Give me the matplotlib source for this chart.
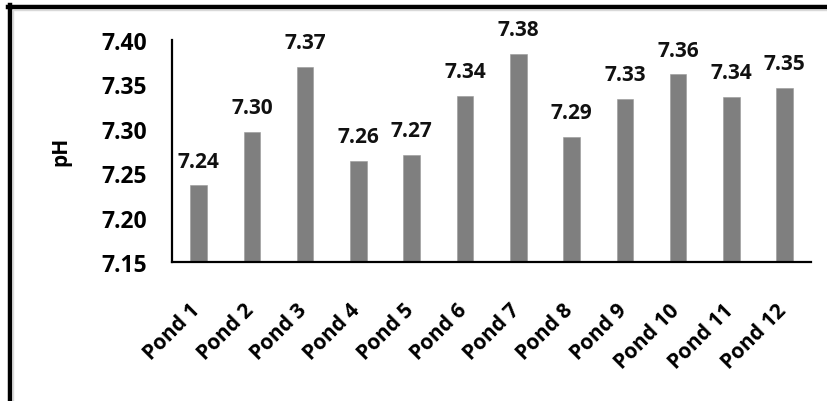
import matplotlib
matplotlib.use("Agg")
import matplotlib.pyplot as plt
from matplotlib.lines import Line2D
import matplotlib.transforms as mtransforms

categories = ["Pond 1", "Pond 2", "Pond 3", "Pond 4", "Pond 5", "Pond 6",
              "Pond 7", "Pond 8", "Pond 9", "Pond 10", "Pond 11", "Pond 12"]
ph_values = [7.236, 7.296, 7.369, 7.264, 7.270, 7.337,
             7.384, 7.291, 7.333, 7.361, 7.336, 7.346]
y_ticks = [7.15, 7.20, 7.25, 7.30, 7.35, 7.40]

plt.rcParams['font.family'] = ['Open Sans', 'DejaVu Sans']

fig = plt.figure(figsize=(8.27, 4.02), dpi=100)
ax = fig.add_axes([0.208, 0.3458, 0.773, 0.5533])

x = range(len(categories))
bars = ax.bar(x, ph_values, width=0.31, color='#7f7f7f', edgecolor='#9a9a9a', linewidth=0.4)

for xi, v in zip(x, ph_values):
    ax.annotate(f"{v:.2f}", xy=(xi, v), xytext=(0, 13.5), textcoords='offset points',
                ha='center', va='baseline', fontsize=15, fontweight='bold', color='#111111')

ax.set_ylim(7.15, 7.40)
ax.set_xlim(-0.5, len(categories) - 0.5)
ax.set_yticks(y_ticks)
ax.set_yticklabels([f"{t:.2f}" for t in y_ticks], fontsize=16.5, fontweight='bold')
ax.set_xticks(list(x))
ax.set_xticklabels(categories, rotation=45, ha='right', va='top', fontsize=15, fontweight='bold')
ax.tick_params(axis='y', length=0, pad=18)
ax.tick_params(axis='x', length=0, pad=27)

shift = mtransforms.ScaledTranslation(6/100, 0, fig.dpi_scale_trans)
for lbl in ax.get_xticklabels():
    lbl.set_transform(lbl.get_transform() + shift)

for s in ['top', 'right']:
    ax.spines[s].set_visible(False)
for s in ['left', 'bottom']:
    ax.spines[s].set_linewidth(1.6)
    ax.spines[s].set_color('black')

ax.set_ylabel("pH", fontsize=15, fontweight='bold')
ax.yaxis.set_label_coords(-0.157, 0.5)

W, H = 827, 402
# outer frame lines (top and left)
fig.add_artist(Line2D([10/W, 10/W], [0, 1 - 5.5/H], transform=fig.transFigure, color='black', linewidth=3.2))
fig.add_artist(Line2D([8/W, 1], [1 - 8/H, 1 - 8/H], transform=fig.transFigure, color='black', linewidth=3.2))
fig.add_artist(Line2D([13/W, 13/W], [0, 1 - 10.5/H], transform=fig.transFigure, color='#d9d9d9', linewidth=1))
fig.add_artist(Line2D([13/W, 1], [1 - 11/H, 1 - 11/H], transform=fig.transFigure, color='#d9d9d9', linewidth=1))

fig.savefig("out.png", dpi=100)
